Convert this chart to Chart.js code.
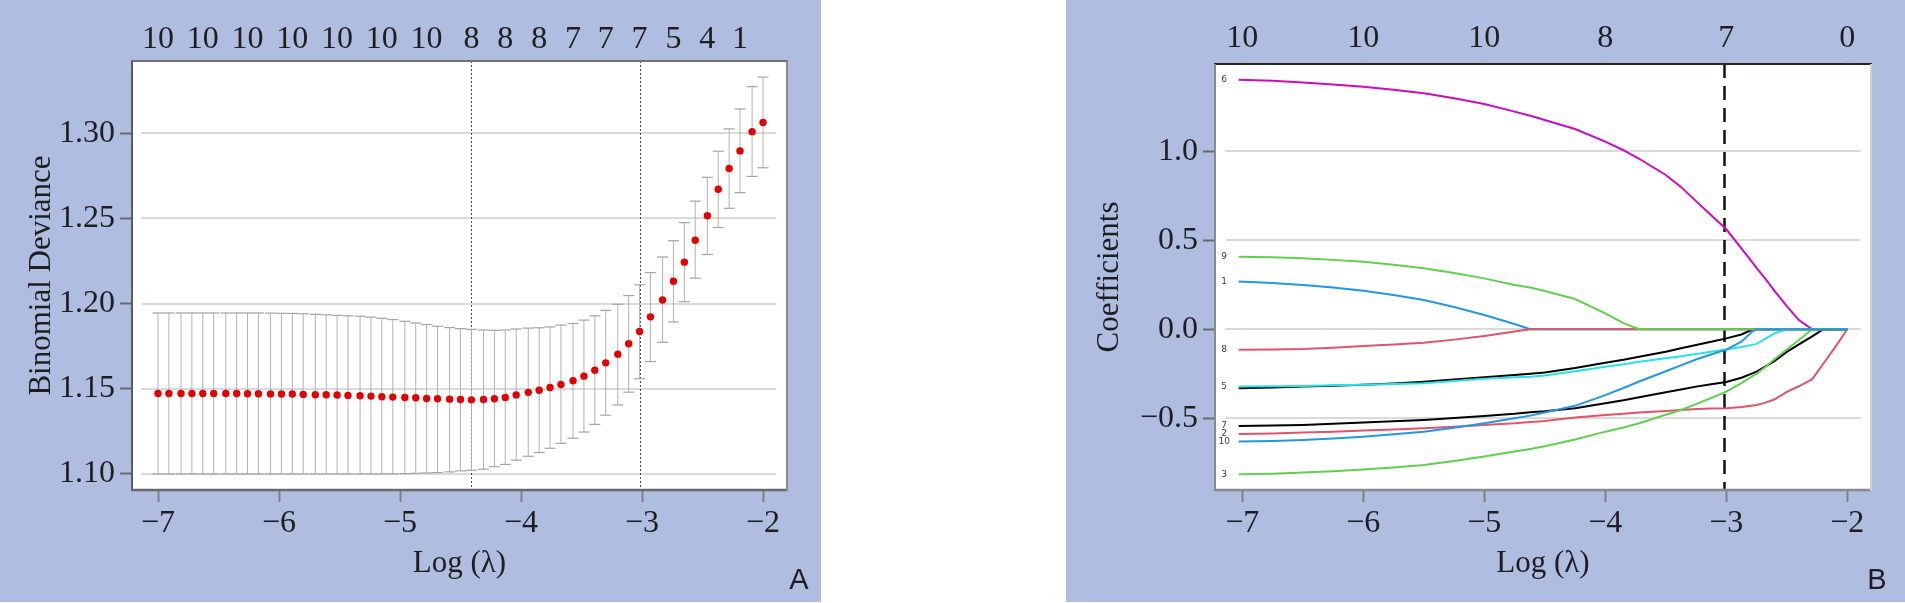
<!DOCTYPE html>
<html>
<head>
<meta charset="utf-8">
<title>Lasso CV and coefficient paths</title>
<script src="https://cdn.jsdelivr.net/npm/chart.js@4.4.1/dist/chart.umd.min.js"></script>
<style>
  html, body { margin: 0; padding: 0; background: #fff; }
  body { width: 1905px; height: 603px; position: relative; overflow: hidden; }
  canvas { position: absolute; top: 0; }
  #panelA { left: 0; }
  #panelB { left: 1066px; }
</style>
</head>
<body>
<canvas id="panelA" width="821" height="603"></canvas>
<canvas id="panelB" width="839" height="603"></canvas>
<script>
/* ------------------------------------------------------------------ */
/*  Panel A data: cross-validated binomial deviance per log(lambda)    */
/* ------------------------------------------------------------------ */

const logLambda = [
  -7.00, -6.91, -6.81, -6.72, -6.63, -6.54, -6.44, -6.35, -6.26, -6.17,
  -6.07, -5.98, -5.89, -5.80, -5.70, -5.61, -5.52, -5.43, -5.33, -5.24,
  -5.15, -5.06, -4.96, -4.87, -4.78, -4.69, -4.59, -4.50, -4.41, -4.31,
  -4.22, -4.13, -4.04, -3.94, -3.85, -3.76, -3.67, -3.57, -3.48, -3.39,
  -3.30, -3.20, -3.11, -3.02, -2.93, -2.83, -2.74, -2.65, -2.56, -2.46,
  -2.37, -2.28, -2.19, -2.09, -2.00
];

const cvMean = [
  1.1472, 1.1472, 1.1472, 1.1472, 1.1472, 1.1472, 1.1472, 1.1472, 1.1471, 1.1471,
  1.1470, 1.1469, 1.1469, 1.1467, 1.1465, 1.1465, 1.1463, 1.1461, 1.1459, 1.1457,
  1.1453, 1.1451, 1.1449, 1.1447, 1.1443, 1.1441, 1.1439, 1.1437, 1.1435, 1.1437,
  1.1441, 1.1449, 1.1464, 1.1479, 1.1491, 1.1507, 1.1525, 1.1547, 1.1574, 1.1609,
  1.1652, 1.1703, 1.1764, 1.1836, 1.1922, 1.2021, 1.2131, 1.2243, 1.2372, 1.2516,
  1.2671, 1.2793, 1.2896, 1.3009, 1.3063
];

const cvUpper = [
  1.1945, 1.1945, 1.1945, 1.1945, 1.1945, 1.1945, 1.1945, 1.1945, 1.1945, 1.1945,
  1.1944, 1.1943, 1.1942, 1.1940, 1.1937, 1.1934, 1.1931, 1.1928, 1.1926, 1.1920,
  1.1914, 1.1906, 1.1896, 1.1886, 1.1877, 1.1867, 1.1859, 1.1853, 1.1849, 1.1845,
  1.1843, 1.1845, 1.1851, 1.1856, 1.1858, 1.1863, 1.1874, 1.1883, 1.1903, 1.1928,
  1.1960, 1.1996, 1.2047, 1.2110, 1.2182, 1.2273, 1.2369, 1.2475, 1.2601, 1.2741,
  1.2894, 1.3025, 1.3142, 1.3273, 1.3329
];

const cvLower = [
  1.1000, 1.1000, 1.1000, 1.1000, 1.1000, 1.1000, 1.1000, 1.1000, 1.1000, 1.1000,
  1.1000, 1.1000, 1.1000, 1.1000, 1.1000, 1.1000, 1.1000, 1.1000, 1.1000, 1.1000,
  1.1000, 1.1001, 1.1002, 1.1004, 1.1006, 1.1008, 1.1012, 1.1018, 1.1022, 1.1028,
  1.1043, 1.1056, 1.1081, 1.1104, 1.1126, 1.1151, 1.1180, 1.1210, 1.1246, 1.1291,
  1.1345, 1.1405, 1.1480, 1.1559, 1.1660, 1.1773, 1.1892, 1.2011, 1.2149, 1.2288,
  1.2446, 1.2559, 1.2651, 1.2746, 1.2797
];

/* number of non-zero coefficients, shown along the top of panel A */
const topTicksA = [-7.00, -6.63, -6.26, -5.89, -5.52, -5.15, -4.78, -4.41,
                   -4.13, -3.85, -3.57, -3.30, -3.02, -2.74, -2.46, -2.19];
const topLabelsA = ['10', '10', '10', '10', '10', '10', '10', '8',
                    '8', '8', '7', '7', '7', '5', '4', '1'];

const lambdaMin = -4.41;
const lambda1se = -3.02;

const xTicks = [-7, -6, -5, -4, -3, -2];
const yTicksA = [1.10, 1.15, 1.20, 1.25, 1.30];

/* ------------------------------------------------------------------ */
/*  Panel B data: coefficient paths                                    */
/* ------------------------------------------------------------------ */

const pathX = [-7.03, -6.75, -6.5, -6.25, -6.0, -5.75, -5.5, -5.25, -5.0, -4.75,
               -4.62, -4.5, -4.25, -4.0, -3.85, -3.72, -3.5, -3.375, -3.25, -3.125,
               -3.0, -2.875, -2.78, -2.75, -2.675, -2.6, -2.5, -2.4, -2.29, -2.2,
               -2.1, -2.0];

const coef6 = [1.402, 1.396, 1.386, 1.375, 1.363, 1.346, 1.326, 1.298, 1.266, 1.223,
               1.200, 1.176, 1.125, 1.054, 1.006, 0.958, 0.867, 0.800, 0.720, 0.641,
               0.562, 0.455, 0.372, 0.345, 0.282, 0.215, 0.130, 0.052, 0, 0,
               0, 0];
const coef9 = [0.408, 0.405, 0.399, 0.390, 0.380, 0.363, 0.343, 0.316, 0.286, 0.249,
               0.235, 0.215, 0.170, 0.090, 0.035, 0, 0, 0, 0, 0,
               0, 0, 0, 0, 0, 0, 0, 0, 0, 0,
               0, 0];
const coef1 = [0.268, 0.260, 0.249, 0.235, 0.217, 0.193, 0.165, 0.125, 0.080, 0.030,
               0, 0, 0, 0, 0, 0, 0, 0, 0, 0,
               0, 0, 0, 0, 0, 0, 0, 0, 0, 0,
               0, 0];
const coef8 = [-0.115, -0.114, -0.111, -0.103, -0.094, -0.085, -0.075, -0.058, -0.037, -0.013,
               0, 0, 0, 0, 0, 0, 0, 0, 0, 0,
               0, 0, 0, 0, 0, 0, 0, 0, 0, 0,
               0, 0];
const coef4 = [-0.331, -0.327, -0.322, -0.317, -0.312, -0.304, -0.294, -0.282, -0.269, -0.257,
               -0.250, -0.243, -0.217, -0.188, -0.171, -0.154, -0.126, -0.107, -0.088, -0.070,
               -0.051, -0.029, 0, 0, 0, 0, 0, 0, 0, 0,
               0, 0];
const coef5 = [-0.322, -0.320, -0.318, -0.315, -0.312, -0.308, -0.303, -0.291, -0.278, -0.270,
               -0.266, -0.260, -0.236, -0.210, -0.196, -0.182, -0.163, -0.151, -0.139, -0.126,
               -0.113, -0.100, -0.086, -0.082, -0.052, -0.022, 0, 0, 0, 0,
               0, 0];
const coef7 = [-0.543, -0.541, -0.537, -0.531, -0.524, -0.517, -0.509, -0.499, -0.487, -0.475,
               -0.466, -0.460, -0.443, -0.416, -0.399, -0.382, -0.354, -0.338, -0.322, -0.309,
               -0.296, -0.272, -0.246, -0.238, -0.208, -0.178, -0.127, -0.085, -0.040, 0,
               0, 0];
const coef2 = [-0.588, -0.585, -0.580, -0.575, -0.569, -0.563, -0.556, -0.547, -0.537, -0.528,
               -0.521, -0.515, -0.495, -0.481, -0.475, -0.468, -0.459, -0.453, -0.448, -0.445,
               -0.443, -0.437, -0.428, -0.425, -0.412, -0.393, -0.352, -0.320, -0.280, -0.195,
               -0.100, 0];
const coef10 = [-0.631, -0.628, -0.622, -0.613, -0.603, -0.590, -0.575, -0.553, -0.528, -0.500,
                -0.485, -0.468, -0.430, -0.370, -0.330, -0.293, -0.236, -0.203, -0.170, -0.142,
                -0.114, -0.070, -0.010, 0, 0, 0, 0, 0, 0, 0,
                0, 0];
const coef3 = [-0.815, -0.811, -0.805, -0.797, -0.787, -0.776, -0.762, -0.740, -0.715, -0.687,
               -0.672, -0.657, -0.619, -0.575, -0.552, -0.528, -0.480, -0.453, -0.420, -0.386,
               -0.350, -0.302, -0.262, -0.250, -0.210, -0.167, -0.113, -0.060, 0, 0,
               0, 0];

/* first entry is drawn on top (Chart.js paints datasets last-to-first) */
const pathNames  = ['10', '9', '8', '3', '2', '7', '5', '4', '1', '6'];
const pathValues = [coef10, coef9, coef8, coef3, coef2, coef7, coef5, coef4, coef1, coef6];
const pathColors = ['#2297e6', '#61d04f', '#df536b', '#61d04f', '#df536b',
                    '#000000', '#28e2e5', '#000000', '#2297e6', '#cd0bbc'];
/* label "4" sits under "5" in the original and cannot be seen */
const pathLabelShown = [true, true, true, true, true, true, true, false, true, true];

const topTicksB = [-7, -6, -5, -4, -3, -2];
const topLabelsB = ['10', '10', '10', '8', '7', '0'];
const yTicksB = [-0.5, 0.0, 0.5, 1.0];

/* ------------------------------------------------------------------ */
/*  Shared styling                                                     */
/* ------------------------------------------------------------------ */

const PANEL_BG = '#aebde0';
const TEXT = '#1e1e1e';
const serifFamily = '"Liberation Serif", "DejaVu Serif", serif';
const tickFont = { family: serifFamily, size: 32 };
const titleFont = { family: serifFamily, size: 31 };

function minus(s) {
    return String(s).replace('-', '\u2212');
}

/**
 * Draws the blue panel, the white plot box, inset grid lines,
 * vertical reference lines, the box border and the panel letter.
 */
const panelFrame = {
    id: 'panelFrame',
    beforeDraw(chart, args, o) {
        const { ctx, chartArea: a, width, height } = chart;
        ctx.save();
        ctx.fillStyle = PANEL_BG;
        ctx.fillRect(0, 0, width, height - 1);
        ctx.fillStyle = '#ffffff';
        ctx.fillRect(a.left, a.top, a.right - a.left, a.bottom - a.top);
        ctx.restore();
    },
    beforeDatasetsDraw(chart, args, o) {
        const { ctx, chartArea: a, scales: { x, y } } = chart;
        ctx.save();
        ctx.strokeStyle = '#dadada';
        ctx.lineWidth = 2;
        const gx0 = x.getPixelForValue(o.gridFrom);
        const gx1 = x.getPixelForValue(o.gridTo);
        o.gridValues.forEach(v => {
            const py = Math.round(y.getPixelForValue(v));
            ctx.beginPath();
            ctx.moveTo(gx0, py);
            ctx.lineTo(gx1, py);
            ctx.stroke();
        });
        ctx.strokeStyle = o.vlineColor;
        ctx.lineWidth = o.vlineWidth;
        ctx.setLineDash(o.vlineDash);
        o.vlines.forEach(v => {
            const px = Math.round(x.getPixelForValue(v)) + 0.5;
            ctx.beginPath();
            ctx.moveTo(px, a.top);
            ctx.lineTo(px, a.bottom);
            ctx.stroke();
        });
        ctx.restore();
    },
    afterDraw(chart, args, o) {
        const { ctx, chartArea: a } = chart;
        ctx.save();
        const edge = (color, w, x0, y0, x1, y1) => {
            ctx.strokeStyle = color;
            ctx.lineWidth = w;
            ctx.beginPath();
            ctx.moveTo(x0, y0);
            ctx.lineTo(x1, y1);
            ctx.stroke();
        };
        edge(o.border.top, 2, a.left - 1, a.top, a.right + 1, a.top);
        edge(o.border.left, 2, a.left, a.top, a.left, a.bottom + 1);
        edge(o.border.bottom, 2.5, a.left - 1, a.bottom, a.right + 1, a.bottom);
        edge(o.border.right, 2, a.right, a.top, a.right, a.bottom + 1);

        ctx.fillStyle = TEXT;
        ctx.font = '29px "Liberation Sans", Arial, sans-serif';
        ctx.textAlign = 'center';
        ctx.textBaseline = 'middle';
        ctx.fillText(o.letter, o.letterX, o.letterY);
        ctx.restore();
    }
};

/** Small variable-number labels at the left end of each coefficient path. */
const pathLabels = {
    id: 'pathLabels',
    afterDatasetsDraw(chart) {
        const { ctx, scales: { x, y } } = chart;
        ctx.save();
        ctx.fillStyle = '#3c3c3c';
        ctx.font = '9px "DejaVu Sans", sans-serif';
        ctx.textAlign = 'center';
        ctx.textBaseline = 'middle';
        const px = x.getPixelForValue(-7.15);
        pathNames.forEach((name, i) => {
            if (!pathLabelShown[i]) return;
            ctx.fillText(name, px, y.getPixelForValue(pathValues[i][0]));
        });
        ctx.restore();
    }
};

function bottomAxis(min, max) {
    return {
        type: 'linear', position: 'bottom', min: min, max: max,
        afterBuildTicks: s => { s.ticks = xTicks.map(v => ({ value: v })); },
        afterFit: s => { s.height = 113; },
        border: { display: false },
        grid: { drawOnChartArea: false, drawTicks: true, tickLength: 12, tickColor: '#808080', tickWidth: 2 },
        ticks: { font: tickFont, color: TEXT, padding: 2.8, maxRotation: 0, autoSkip: false,
                 callback: v => minus(v) },
        title: { display: true, text: 'Log (\u03bb)', font: titleFont, color: TEXT,
                 padding: { top: 0, bottom: 21 } }
    };
}

function topAxis(min, max, ticks, labels, height, tickLen) {
    return {
        type: 'linear', position: 'top', min: min, max: max,
        afterBuildTicks: s => { s.ticks = ticks.map(v => ({ value: v })); },
        afterFit: s => { s.height = height; },
        border: { display: false },
        grid: { drawOnChartArea: false, drawTicks: tickLen > 0, tickLength: tickLen,
                tickColor: '#b4b4b4', tickWidth: 1.5 },
        ticks: { font: tickFont, color: TEXT, padding: 1.8, maxRotation: 0, autoSkip: false,
                 callback: (v, i) => labels[i] }
    };
}

function leftAxis(min, max, ticks, digits, width, title, titlePad) {
    return {
        type: 'linear', position: 'left', min: min, max: max,
        afterBuildTicks: s => { s.ticks = ticks.map(v => ({ value: v })); },
        afterFit: s => { s.width = width; },
        border: { display: false },
        grid: { drawOnChartArea: false, drawTicks: true, tickLength: 12, tickColor: '#6a6a6a', tickWidth: 2 },
        ticks: { font: tickFont, color: TEXT, padding: 5, autoSkip: false,
                 callback: v => minus(v.toFixed(digits)) },
        title: { display: true, text: title, font: titleFont, color: TEXT,
                 padding: { top: titlePad, bottom: 0 } }
    };
}

/* ------------------------------------------------------------------ */
/*  Panel A chart                                                      */
/* ------------------------------------------------------------------ */

const errorBarPoints = [];
logLambda.forEach((x, i) => {
    errorBarPoints.push({ x: x, y: cvLower[i] }, { x: x, y: cvUpper[i] }, { x: x, y: null });
});

new Chart(document.getElementById('panelA'), {
    type: 'scatter',
    data: {
        datasets: [
            {
                label: 'mean deviance',
                data: logLambda.map((x, i) => ({ x: x, y: cvMean[i] })),
                pointRadius: 3.7, pointBackgroundColor: '#e30000', pointBorderWidth: 0
            },
            {
                label: 'upper cap',
                data: logLambda.map((x, i) => ({ x: x, y: cvUpper[i] })),
                pointStyle: 'line', pointRadius: 5.5,
                pointBorderColor: '#a4a4a4', pointBorderWidth: 1.2
            },
            {
                label: 'lower cap',
                data: logLambda.map((x, i) => ({ x: x, y: cvLower[i] })),
                pointStyle: 'line', pointRadius: 5.5,
                pointBorderColor: '#a4a4a4', pointBorderWidth: 1.2
            },
            {
                label: 'error bars',
                data: errorBarPoints,
                showLine: true, spanGaps: false, pointRadius: 0,
                borderColor: '#b2b2b2', borderWidth: 1
            }
        ]
    },
    options: {
        responsive: false, devicePixelRatio: 1, animation: false, events: [],
        layout: { padding: { left: 0, right: 34, top: 0, bottom: 0 } },
        scales: {
            x: bottomAxis(-7.2149, -1.8017),
            xTop: topAxis(-7.2149, -1.8017, topTicksA, topLabelsA, 61, 0),
            y: leftAxis(1.09059, 1.34235, yTicksA, 2, 132, 'Binomial Deviance', 23)
        },
        plugins: {
            legend: { display: false },
            tooltip: { enabled: false },
            panelFrame: {
                gridFrom: -7.14, gridTo: -1.89, gridValues: yTicksA,
                vlines: [lambdaMin, lambda1se], vlineColor: '#4a4a4a', vlineWidth: 1, vlineDash: [2, 2],
                border: { top: '#707070', left: '#5c5c5c', bottom: '#6a6a6a', right: '#8a8a8a' },
                letter: 'A', letterX: 799, letterY: 581
            }
        }
    },
    plugins: [panelFrame]
});

/* ------------------------------------------------------------------ */
/*  Panel B chart                                                      */
/* ------------------------------------------------------------------ */

new Chart(document.getElementById('panelB'), {
    type: 'scatter',
    data: {
        datasets: pathNames.map((name, i) => ({
            label: name,
            data: pathX.map((x, j) => ({ x: x, y: pathValues[i][j] })),
            showLine: true, pointRadius: 0, tension: 0,
            borderColor: pathColors[i], borderWidth: 2
        }))
    },
    options: {
        responsive: false, devicePixelRatio: 1, animation: false, events: [],
        layout: { padding: { left: 0, right: 34, top: 0, bottom: 0 } },
        scales: {
            x: bottomAxis(-7.2256, -1.8041),
            xTop: topAxis(-7.2256, -1.8041, topTicksB, topLabelsB, 64, 4),
            y: leftAxis(-0.9028, 1.4904, yTicksB, 1, 149, 'Coefficients', 25)
        },
        plugins: {
            legend: { display: false },
            tooltip: { enabled: false },
            panelFrame: {
                gridFrom: -7.14, gridTo: -1.89, gridValues: yTicksB,
                vlines: [lambda1se], vlineColor: '#111111', vlineWidth: 2.5, vlineDash: [14, 8],
                border: { top: '#262626', left: '#8a8a8a', bottom: '#8a8a8a', right: '#d0d0d0' },
                letter: 'B', letterX: 811, letterY: 581
            }
        }
    },
    plugins: [panelFrame, pathLabels]
});
</script>
</body>
</html>
